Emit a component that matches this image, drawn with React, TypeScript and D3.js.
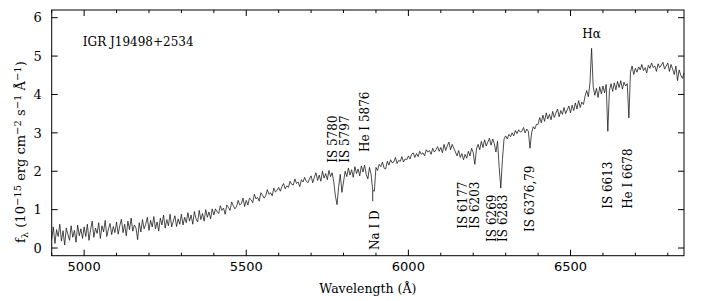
import React, { useEffect, useRef } from "react";
import * as d3 from "d3";

// spectrum sampled every 5 A from 4900 A, flux in 1e-15 erg/cm2/s/A
const waveStart = 4900;
const waveStep = 5;
const flux: number[] = [
  // 4900
  0.22, 0.55, 0.12, 0.48, 0.30, 0.62, 0.18, 0.45, 0.08, 0.52, 0.35, 0.20, 0.58, 0.28, 0.46, 0.15, 0.60, 0.32, 0.50, 0.25,
  // 5000
  0.55, 0.30, 0.62, 0.20, 0.48, 0.70, 0.28, 0.52, 0.38, 0.66, 0.25, 0.58, 0.42, 0.72, 0.30, 0.50, 0.64, 0.35, 0.56, 0.40,
  // 5100
  0.68, 0.36, 0.58, 0.75, 0.40, 0.62, 0.32, 0.70, 0.48, 0.78, 0.44, 0.60, 0.52, 0.22, 0.66, 0.42, 0.74, 0.50, 0.62, 0.80,
  // 5200
  0.46, 0.72, 0.55, 0.82, 0.50, 0.68, 0.44, 0.78, 0.60, 0.86, 0.52, 0.74, 0.58, 0.88, 0.55, 0.70, 0.84, 0.56, 0.76, 0.62,
  // 5300
  0.88, 0.60, 0.80, 0.66, 0.92, 0.70, 0.86, 0.62, 0.95, 0.76, 0.68, 0.98, 0.74, 0.90, 0.70, 1.00, 0.80, 0.94, 0.76, 1.02,
  // 5400
  0.86, 1.02, 0.94, 0.90, 1.10, 0.98, 1.04, 0.88, 1.12, 1.06, 0.98, 1.20, 1.10, 1.02, 1.08, 1.24, 1.12, 1.16, 1.30, 1.08,
  // 5500
  1.24, 1.12, 1.30, 1.26, 1.18, 1.40, 1.28, 1.32, 1.22, 1.44, 1.38, 1.30, 1.36, 1.52, 1.40, 1.44, 1.36, 1.56, 1.46, 1.50,
  // 5600
  1.58, 1.48, 1.60, 1.68, 1.54, 1.62, 1.58, 1.74, 1.66, 1.64, 1.80, 1.68, 1.72, 1.60, 1.78, 1.72, 1.84, 1.74, 1.70, 1.80,
  // 5700
  1.88, 1.70, 1.84, 1.96, 1.76, 1.90, 1.74, 2.00, 1.82, 1.94, 1.78, 2.02, 1.86, 1.96, 1.72, 1.35, 1.13, 1.60, 1.92, 1.45,
  // 5800
  1.72, 2.00, 1.86, 2.08, 1.90, 2.04, 1.84, 2.12, 1.94, 2.06, 1.88, 2.14, 1.98, 2.16, 1.92, 1.80, 2.10, 1.92, 1.50, 1.48,
  // 5900
  2.10, 2.02, 2.18, 2.12, 2.24, 2.08, 2.06, 2.26, 2.16, 2.30, 2.22, 2.24, 2.36, 2.20, 2.28, 2.26, 2.38, 2.24, 2.32, 2.30,
  // 6000
  2.40, 2.32, 2.44, 2.48, 2.36, 2.46, 2.38, 2.52, 2.44, 2.48, 2.40, 2.56, 2.50, 2.54, 2.44, 2.60, 2.50, 2.56, 2.64, 2.52,
  // 6100
  2.62, 2.48, 2.70, 2.54, 2.66, 2.76, 2.56, 2.70, 2.60, 2.50, 2.40, 2.54, 2.36, 2.46, 2.30, 2.44, 2.34, 2.52, 2.40, 2.60,
  // 6200
  2.48, 2.18, 2.58, 2.70, 2.56, 2.78, 2.62, 2.82, 2.66, 2.76, 2.86, 2.68, 2.84, 2.72, 2.50, 2.78, 2.10, 1.56, 2.30, 2.84,
  // 6300
  2.92, 2.84, 2.96, 2.90, 3.00, 2.92, 3.06, 2.98, 3.08, 3.02, 3.04, 3.14, 3.00, 3.10, 3.04, 2.60, 3.00, 3.16, 3.10, 3.22,
  // 6400
  3.22, 3.40, 3.26, 3.46, 3.30, 3.52, 3.36, 3.48, 3.34, 3.56, 3.40, 3.52, 3.62, 3.42, 3.58, 3.48, 3.66, 3.50, 3.60, 3.70,
  // 6500
  3.52, 3.72, 3.58, 3.78, 3.62, 3.84, 3.66, 3.80, 3.74, 3.96, 4.10, 3.94, 4.30, 5.20, 4.20, 3.98, 4.16, 3.92, 4.20, 4.02,
  // 6600
  4.22, 4.04, 4.26, 3.04, 4.10, 4.28, 4.08, 4.30, 4.12, 4.34, 4.18, 4.36, 4.14, 4.32, 4.22, 4.28, 3.39, 4.58, 4.74, 4.52,
  // 6700
  4.68, 4.58, 4.72, 4.64, 4.78, 4.62, 4.70, 4.56, 4.76, 4.68, 4.82, 4.70, 4.74, 4.60, 4.80, 4.70, 4.76, 4.84, 4.66, 4.74,
  // 6800
  4.82, 4.60, 4.78, 4.66, 4.52, 4.74, 4.36, 4.64, 4.50, 4.42, 4.56,
];

const xTickLabels = [5000, 5500, 6000, 6500];
const yTickLabels = [0, 1, 2, 3, 4, 5, 6];

// vertical line identifications: label wavelength and flux where the text starts
const lineLabels = [
  { text: "IS 5780", wave: 5767, flux: 2.22 },
  { text: "IS 5797", wave: 5804, flux: 2.22 },
  { text: "He I 5876", wave: 5866, flux: 2.5 },
  { text: "Na I D", wave: 5897, flux: -0.05 },
  { text: "IS 6177", wave: 6167, flux: 0.5 },
  { text: "IS 6203", wave: 6205, flux: 0.5 },
  { text: "IS 6269", wave: 6257, flux: 0.16 },
  { text: "IS 6283", wave: 6291, flux: 0.16 },
  { text: "IS 6376,79", wave: 6375, flux: 0.42 },
  { text: "IS 6613", wave: 6615, flux: 1.02 },
  { text: "He I 6678", wave: 6677, flux: 1.02 },
];

const App = () => {
  const svgRef = useRef<SVGSVGElement>(null);

  useEffect(() => {
    const W = 701;
    const H = 301;
    const margin = { top: 10, right: 17, bottom: 45.3, left: 51.7 };
    const width = W - margin.left - margin.right;
    const height = H - margin.top - margin.bottom;

    const root = d3.select(svgRef.current).attr("width", W).attr("height", H);
    root.selectAll("*").remove();

    const svg = root.append("g").attr("transform", `translate(${margin.left},${margin.top})`);

    const x = d3.scaleLinear().domain([4900, 6850]).range([0, width]);
    const y = d3.scaleLinear().domain([-0.2, 6.2]).range([height, 0]);

    const serif = "'DejaVu Serif', serif";
    const sans = "'DejaVu Sans', sans-serif";

    // spectrum
    const pts = flux.map((f, i) => [waveStart + i * waveStep, f] as [number, number]);
    const line = d3
      .line<[number, number]>()
      .x((d) => x(d[0]))
      .y((d) => y(d[1]));
    svg
      .append("path")
      .datum(pts)
      .attr("d", line)
      .attr("fill", "none")
      .attr("stroke", "#111")
      .attr("stroke-width", 0.75);

    // frame
    svg
      .append("rect")
      .attr("width", width)
      .attr("height", height)
      .attr("fill", "none")
      .attr("stroke", "#000")
      .attr("stroke-width", 1);

    // inward ticks on all four sides
    const minorX = d3.range(4900, 6851, 100);
    const ticks = svg.append("g").attr("stroke", "#000").attr("stroke-width", 1);
    minorX.forEach((w) => {
      const len = w % 500 === 0 ? 6 : 3;
      ticks.append("line").attr("x1", x(w)).attr("x2", x(w)).attr("y1", height).attr("y2", height - len);
      ticks.append("line").attr("x1", x(w)).attr("x2", x(w)).attr("y1", 0).attr("y2", len);
    });
    yTickLabels.forEach((v) => {
      ticks.append("line").attr("x1", 0).attr("x2", 6).attr("y1", y(v)).attr("y2", y(v));
      ticks.append("line").attr("x1", width).attr("x2", width - 6).attr("y1", y(v)).attr("y2", y(v));
    });

    // tick labels
    svg
      .selectAll(".xlab")
      .data(xTickLabels)
      .enter()
      .append("text")
      .attr("x", (d) => x(d))
      .attr("y", height + 15.5)
      .attr("text-anchor", "middle")
      .style("font-family", sans)
      .style("font-size", "13px")
      .text((d) => d);

    svg
      .selectAll(".ylab")
      .data(yTickLabels)
      .enter()
      .append("text")
      .attr("x", -10)
      .attr("y", (d) => y(d))
      .attr("dy", "0.36em")
      .attr("text-anchor", "end")
      .style("font-family", serif)
      .style("font-size", "13px")
      .text((d) => d);

    // axis titles
    svg
      .append("text")
      .attr("x", width / 2)
      .attr("y", height + 37)
      .attr("text-anchor", "middle")
      .style("font-family", serif)
      .style("font-size", "12.5px")
      .text("Wavelength (Å)");

    const yTitle = root
      .append("text")
      .attr("transform", `translate(25,243) rotate(-90)`)
      .style("font-family", serif)
      .style("font-size", "13px");
    yTitle.append("tspan").text("f");
    yTitle.append("tspan").attr("baseline-shift", "-25%").style("font-size", "10px").text("λ");
    yTitle.append("tspan").text(" (10");
    yTitle.append("tspan").attr("baseline-shift", "40%").style("font-size", "10px").text("−15");
    yTitle.append("tspan").text(" erg cm");
    yTitle.append("tspan").attr("baseline-shift", "40%").style("font-size", "10px").text("−2");
    yTitle.append("tspan").text(" s");
    yTitle.append("tspan").attr("baseline-shift", "40%").style("font-size", "10px").text("−1");
    yTitle.append("tspan").text(" Å");
    yTitle.append("tspan").attr("baseline-shift", "40%").style("font-size", "10px").text("−1");
    yTitle.append("tspan").text(")");

    // object name
    svg
      .append("text")
      .attr("x", x(4996))
      .attr("y", y(5.25))
      .style("font-family", serif)
      .style("font-size", "12px")
      .text("IGR J19498+2534");

    // H alpha
    svg
      .append("text")
      .attr("x", x(6565))
      .attr("y", y(5.48))
      .attr("text-anchor", "middle")
      .style("font-family", serif)
      .style("font-size", "12px")
      .text("Hα");

    // line identifications
    svg
      .selectAll(".ident")
      .data(lineLabels)
      .enter()
      .append("text")
      .attr("transform", (d) => `translate(${x(d.wave)},${y(d.flux)}) rotate(-90)`)
      .attr("dy", "0.36em")
      .style("font-family", serif)
      .style("font-size", "12px")
      .text((d) => d.text);

    // Na D marker
    svg
      .append("line")
      .attr("x1", x(5890))
      .attr("x2", x(5890))
      .attr("y1", y(1.5))
      .attr("y2", y(1.22))
      .attr("stroke", "#000")
      .attr("stroke-width", 0.8);
  }, []);

  return <svg ref={svgRef} style={{ position: "absolute", left: 0, top: 0 }}></svg>;
};

export default App;
